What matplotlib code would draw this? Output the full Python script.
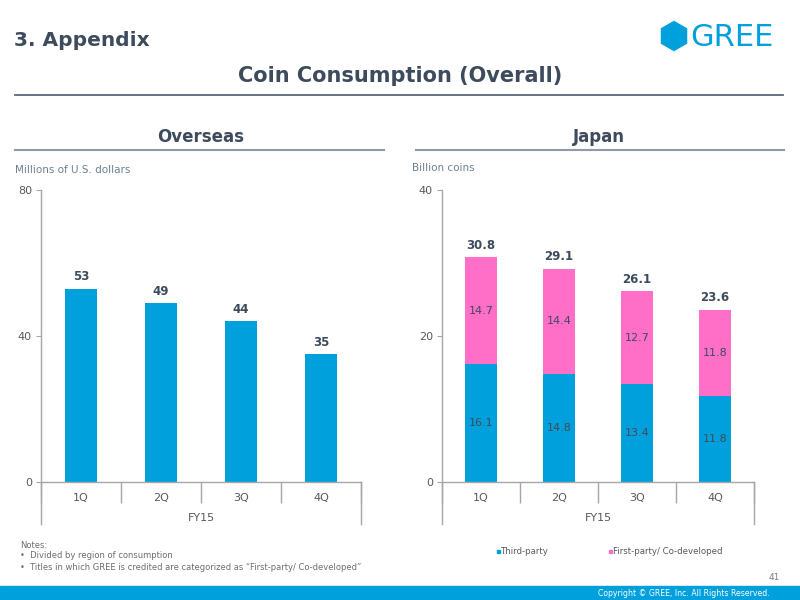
import matplotlib
matplotlib.use("Agg")
import matplotlib.pyplot as plt
from matplotlib.patches import Rectangle, RegularPolygon
from matplotlib.lines import Line2D

# --- data ---
quarters = ["1Q", "2Q", "3Q", "4Q"]
fiscal_year = "FY15"
overseas = [53, 49, 44, 35]
jp_third = [16.1, 14.8, 13.4, 11.8]
jp_first = [14.7, 14.4, 12.7, 11.8]
jp_total = [30.8, 29.1, 26.1, 23.6]
series_names = ["Third-party", "First-party/ Co-developed"]
notes = ["Notes:",
         "\u2022  Divided by region of consumption",
         "\u2022  Titles in which GREE is credited are categorized as \u201cFirst-party/ Co-developed\u201d"]

BLUE = "#00A0DC"
PINK = "#FF6EC7"
DARK = "#3D4B5C"
GRAY = "#6E7F91"
AXC = "#A6A6A6"
TICKC = "#595959"

fig = plt.figure(figsize=(8, 6), dpi=100)
W, H = 800, 600


def px(x, y):
    return x / W, 1 - y / H


def hline(x0, x1, y, color, lw):
    fig.add_artist(Line2D([x0 / W, x1 / W], [1 - y / H, 1 - y / H],
                          color=color, lw=lw, transform=fig.transFigure))


# --- header ---
fig.text(*px(14, 40), "3. Appendix", fontsize=14.5, fontweight="bold",
         color=DARK, va="center", ha="left")
fig.text(*px(400, 76), "Coin Consumption (Overall)", fontsize=15,
         fontweight="bold", color=DARK, va="center", ha="center")
hline(15, 783, 95, "#5A6878", 1.3)

# GREE logo
fig.patches.append(RegularPolygon((6.74, 6 - 0.36), 6, radius=0.145,
                                  orientation=0, color=BLUE,
                                  transform=fig.dpi_scale_trans, figure=fig))
fig.text(*px(690, 37), "GREE", fontsize=22, color=BLUE, va="center", ha="left")

# section titles
fig.text(*px(201, 137), "Overseas", fontsize=12, fontweight="bold",
         color=DARK, va="center", ha="center")
hline(15, 384, 150, "#8F9BA8", 1.5)
fig.text(*px(599, 137), "Japan", fontsize=12, fontweight="bold",
         color=DARK, va="center", ha="center")
hline(416, 784, 150, "#8F9BA8", 1.5)

fig.text(*px(15, 170), "Millions of U.S. dollars", fontsize=7.5,
         color=GRAY, va="center", ha="left")
fig.text(*px(412, 168), "Billion coins", fontsize=7.5,
         color=GRAY, va="center", ha="left")


def style_axes(ax, ymax, yticks, h_px):
    ax.set_xlim(-0.5, len(quarters) - 0.5)
    ax.set_ylim(0, ymax)
    for s in ["top", "right"]:
        ax.spines[s].set_visible(False)
    for s in ["left", "bottom"]:
        ax.spines[s].set_color(AXC)
        ax.spines[s].set_linewidth(1)
    ax.set_yticks(yticks)
    ax.tick_params(axis="y", length=3.5, color=AXC, labelcolor=TICKC,
                   labelsize=8, pad=3)
    ax.set_xticks(range(len(quarters)))
    ax.set_xticklabels(quarters)
    ax.tick_params(axis="x", which="major", length=0, labelcolor=TICKC,
                   labelsize=8, pad=8)
    ax.set_xticks([i - 0.5 for i in range(len(quarters) + 1)], minor=True)
    ax.tick_params(axis="x", which="minor", length=15, color=AXC, width=1)
    tr = ax.get_xaxis_transform()
    for xb in (-0.5, len(quarters) - 0.5):
        ax.plot([xb, xb], [0, -42 / h_px], color=AXC, lw=1,
                transform=tr, clip_on=False)
    ax.text((len(quarters) - 1) / 2, -36 / h_px, fiscal_year, transform=tr,
            ha="center", va="center", fontsize=8, color=TICKC)


# --- overseas chart ---
ax1 = fig.add_axes([41 / W, (600 - 482) / H, 320 / W, 292 / H])
x = range(len(quarters))
ax1.bar(x, overseas, width=0.4, color=BLUE)
for xi, v in zip(x, overseas):
    ax1.annotate(f"{v}", (xi, v), xytext=(0, 4), textcoords="offset points",
                 ha="center", va="bottom", fontsize=8.5, fontweight="bold",
                 color=DARK)
style_axes(ax1, 80, [0, 40, 80], 292)

# --- japan chart ---
ax2 = fig.add_axes([442 / W, (600 - 482) / H, 312 / W, 292 / H])
ax2.bar(x, jp_third, width=0.4, color=BLUE, label=series_names[0])
ax2.bar(x, jp_first, width=0.4, bottom=jp_third, color=PINK,
        label=series_names[1])
for xi, a, b, t in zip(x, jp_third, jp_first, jp_total):
    ax2.text(xi, a / 2, f"{a:.1f}", ha="center", va="center", fontsize=8,
             color="#404A5A")
    ax2.text(xi, a + b / 2, f"{b:.1f}", ha="center", va="center", fontsize=8,
             color="#404A5A")
    ax2.annotate(f"{t:.1f}", (xi, a + b), xytext=(0, 4),
                 textcoords="offset points", ha="center", va="bottom",
                 fontsize=8.5, fontweight="bold", color=DARK)
style_axes(ax2, 40, [0, 20, 40], 292)

# legend
for (lx, name, col) in [(497, series_names[0], BLUE), (609, series_names[1], PINK)]:
    fig.patches.append(Rectangle((lx / W, 1 - 553 / H), 3 / W, 3 / H,
                                 color=col, transform=fig.transFigure,
                                 figure=fig))
    fig.text(*px(lx + 4, 551), name, fontsize=6.2, color=TICKC,
             va="center", ha="left")

# notes
for i, line in enumerate(notes):
    fig.text(*px(20, 545 + i * 11), line, fontsize=6, color="#6D6D6D",
             va="center", ha="left")

fig.text(*px(780, 578), "41", fontsize=6.5, color="#7F7F7F",
         va="center", ha="right")

# footer band
fig.patches.append(Rectangle((0, 0), 1, 14 / H, color=BLUE,
                             transform=fig.transFigure, figure=fig))
fig.text(*px(770, 593), "Copyright \u00a9 GREE, Inc. All Rights Reserved.",
         fontsize=5.6, color="white", va="center", ha="right")

fig.savefig("out.png", dpi=100)
